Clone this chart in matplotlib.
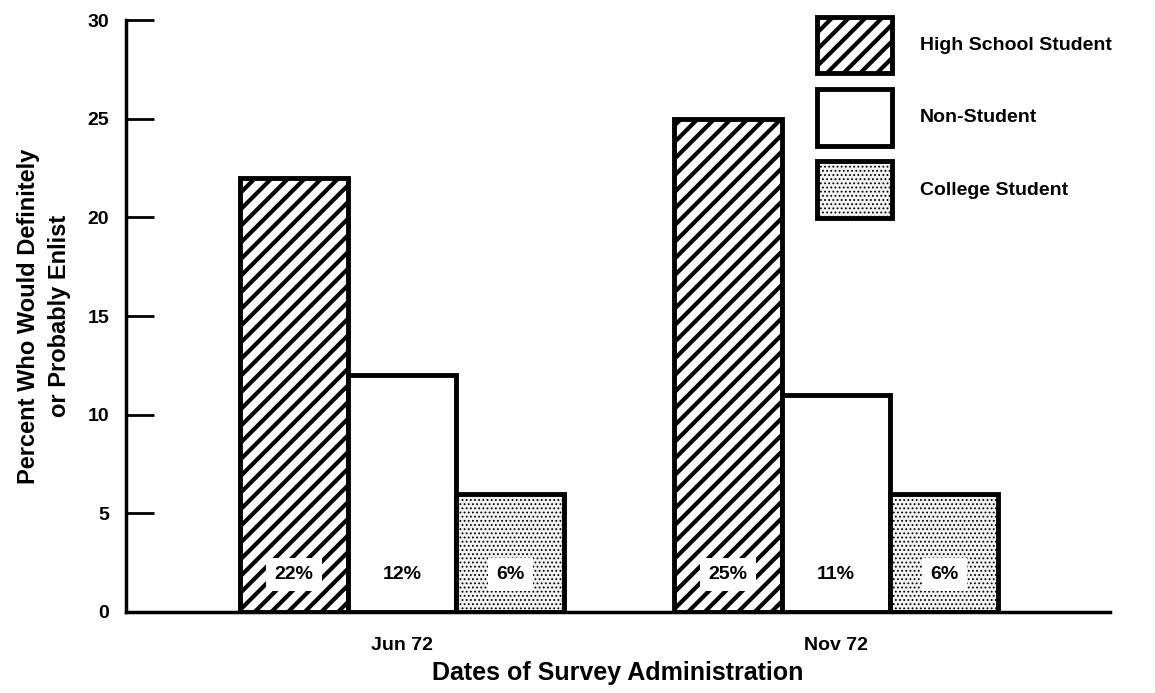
import numpy as np
import matplotlib.pyplot as plt

plt.rcParams['font.family'] = ['Liberation Sans', 'DejaVu Sans']

dates = ['Jun 72', 'Nov 72']
groups = ['High School Student', 'Non-Student', 'College Student']
high_school = [22, 25]
non_student = [12, 11]
college = [6, 6]
pct_labels = [['22%', '12%', '6%'], ['25%', '11%', '6%']]

x = np.arange(len(dates))
w = 0.249

fig = plt.figure(figsize=(11.55, 6.93), dpi=100)
ax = fig.add_axes([0.109, 0.117, 0.852, 0.854])

plt.rcParams['hatch.linewidth'] = 3.0
b1 = ax.bar(x - w, high_school, w, facecolor='white', edgecolor='black',
            linewidth=3.5, hatch='//', label=groups[0])
b2 = ax.bar(x, non_student, w, facecolor='white', edgecolor='black',
            linewidth=3.5, label=groups[1])
plt.rcParams['hatch.linewidth'] = 0.8
b3 = ax.bar(x + w, college, w, facecolor='#f2f2f2', edgecolor='black',
            linewidth=3.5, hatch='....', label=groups[2])

for i in range(len(dates)):
    for j, off in enumerate([-w, 0, w]):
        ax.text(x[i] + off, 1.9, pct_labels[i][j], ha='center', va='center',
                fontsize=14, fontweight='bold',
                bbox=dict(facecolor='white', edgecolor='none', pad=6))

ax.set_xlim(-0.636, 1.631)
ax.set_ylim(0, 30)
ax.set_yticks([0, 5, 10, 15, 20, 25, 30])
ax.set_xticks(x)
ax.set_xticklabels(dates)
ax.tick_params(axis='y', direction='in', length=20, width=2, labelsize=14, pad=12)
ax.tick_params(axis='x', length=0, labelsize=14, pad=18)
for lab in ax.get_yticklabels() + ax.get_xticklabels():
    lab.set_fontweight('bold')

for s in ['top', 'right']:
    ax.spines[s].set_visible(False)
ax.spines['left'].set_linewidth(2.5)
ax.spines['bottom'].set_linewidth(2.5)

ax.set_ylabel('Percent Who Would Definitely\nor Probably Enlist', fontsize=17,
              fontweight='bold', labelpad=12, linespacing=1.45)
ax.set_xlabel('Dates of Survey Administration', fontsize=18,
              fontweight='bold', labelpad=5)

plt.rcParams['hatch.linewidth'] = 3.0
leg = ax.legend(loc='upper left', bbox_to_anchor=(0.685, 1.035), frameon=False,
                fontsize=14, handlelength=3.85, handleheight=4.1,
                labelspacing=0.8, handletextpad=1.4)
for t in leg.get_texts():
    t.set_fontweight('bold')
dot_patch = leg.get_patches()[2]
if hasattr(dot_patch, 'set_hatch_linewidth'):
    dot_patch.set_hatch_linewidth(0.8)

fig.savefig('out.png', dpi=100)
